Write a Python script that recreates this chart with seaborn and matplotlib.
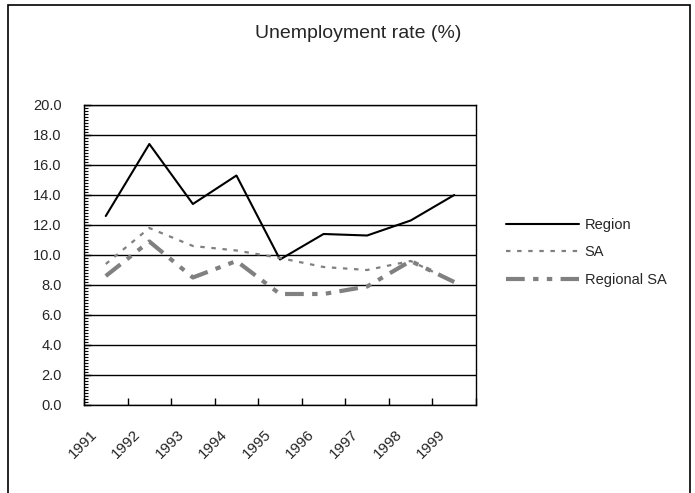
import matplotlib
matplotlib.use("Agg")
import matplotlib.pyplot as plt
from matplotlib.ticker import MultipleLocator, FixedLocator, FormatStrFormatter
from matplotlib.patches import Rectangle
from matplotlib.transforms import ScaledTranslation, blended_transform_factory
import seaborn as sns
import pandas as pd

years = ["1991", "1992", "1993", "1994", "1995", "1996", "1997", "1998", "1999"]
region = [12.6, 17.4, 13.4, 15.3, 9.7, 11.4, 11.3, 12.3, 14.0]
sa = [9.4, 11.8, 10.6, 10.3, 9.8, 9.2, 9.0, 9.6, 8.2]
regional_sa = [8.6, 10.9, 8.5, 9.6, 7.4, 7.4, 7.9, 9.6, 8.2]
series_names = ["Region", "SA", "Regional SA"]
title = "Unemployment rate (%)"

sns.set_theme(style="white")
plt.rcParams["font.family"] = ["Liberation Sans", "DejaVu Sans"]

df = pd.DataFrame({"Year": years * 3,
                   "Rate": region + sa + regional_sa,
                   "Series": [series_names[0]] * 9 + [series_names[1]] * 9 + [series_names[2]] * 9})

fig = plt.figure(figsize=(6.95, 4.93), dpi=100)
ax = fig.add_axes([84 / 695, 88 / 493, 392 / 695, 300 / 493])

styles = {
    "Region": dict(color="black", lw=1.5, ls="-"),
    "SA": dict(color="#808080", lw=1.6, ls=(0, (2.0, 3.0))),
    "Regional SA": dict(color="#808080", lw=3.0, ls=(0, (4.5, 2.0, 1.3, 2.0, 1.3, 2.0))),
}
for name in series_names:
    sub = df[df["Series"] == name]
    st = styles[name]
    sns.lineplot(data=sub, x="Year", y="Rate", ax=ax, color=st["color"],
                 linewidth=st["lw"], linestyle=st["ls"], label=name, legend=False)

ax.set_xlim(-0.5, len(years) - 0.5)
ax.set_ylim(0, 20)
ax.set_xlabel("")
ax.set_ylabel("")
ax.yaxis.set_major_locator(MultipleLocator(2))
ax.yaxis.set_minor_locator(MultipleLocator(0.2))
ax.yaxis.set_major_formatter(FormatStrFormatter("%.1f"))
ax.grid(True, axis="y", which="major", color="black", lw=1.0)
ax.set_axisbelow(True)
for sp in ax.spines.values():
    sp.set_color("black")
    sp.set_linewidth(1.0)
    sp.set_visible(True)

ax.set_xticks(range(len(years)))
ax.set_xticklabels([""] * len(years))
ax.xaxis.set_minor_locator(FixedLocator([i - 0.5 for i in range(len(years) + 1)]))
ax.tick_params(axis="x", which="major", length=0)
ax.tick_params(axis="x", which="minor", direction="in", length=5, width=1, color="black", bottom=True)
ax.tick_params(axis="y", which="major", direction="in", length=5, width=1, color="black", labelsize=10.5, pad=16, left=True)
ax.tick_params(axis="y", which="minor", direction="in", length=3, width=0.8, color="black", left=True)

base = blended_transform_factory(ax.transData, ax.transAxes)
off = ScaledTranslation(-16 / 100, -22 / 100, fig.dpi_scale_trans)
for i, yr in enumerate(years):
    ax.text(i, 0, yr, transform=base + off, rotation=45, ha="right", va="top",
            rotation_mode="anchor", fontsize=11, clip_on=False)

fig.text(358 / 695, 1 - 33 / 493, title, ha="center", va="center", fontsize=14)

handles, labels = ax.get_legend_handles_labels()
fig.legend(handles, labels, loc="center left", bbox_to_anchor=(506 / 695, 1 - 252.5 / 493),
           frameon=False, borderpad=0, borderaxespad=0, fontsize=10.5,
           handlelength=5.0, handletextpad=0.4, labelspacing=0.95)

fig.patches.append(Rectangle((8 / 695, -0.02), 682 / 695, 1 - 5 / 493 + 0.02,
                             transform=fig.transFigure, fill=False, edgecolor="black", lw=1.2))

fig.savefig("out.png", dpi=100)
